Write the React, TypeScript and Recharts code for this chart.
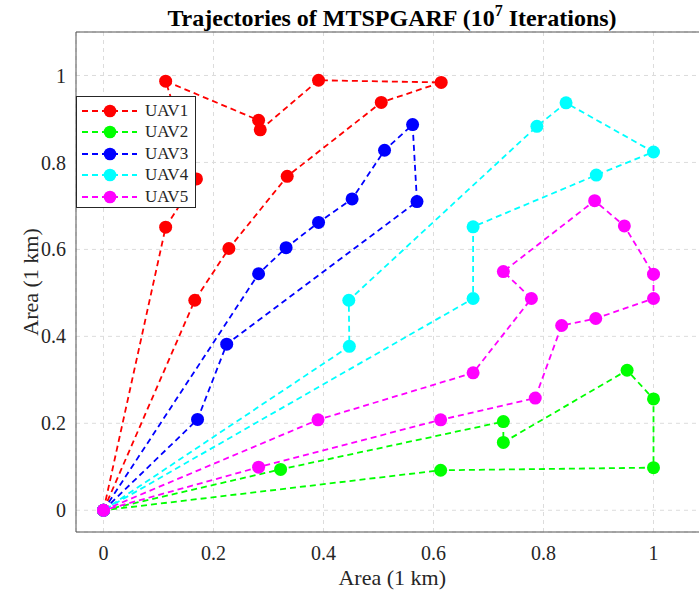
import React from 'react'
import { ScatterChart, Scatter, XAxis, YAxis, CartesianGrid, ReferenceLine } from 'recharts'

const FONT = '"Liberation Serif", "Times New Roman", serif'
const TEXT = '#262626'

// UAV routes, in visiting order (km)
const uav1X = [0, 0.113, 0.169, 0.113, 0.282, 0.285, 0.391, 0.614, 0.505, 0.334, 0.228, 0.166, 0]
const uav1Y = [0, 0.651, 0.762, 0.987, 0.897, 0.875, 0.989, 0.984, 0.938, 0.768, 0.602, 0.483, 0]
const uav2X = [0, 0.322, 0.727, 0.727, 0.952, 1, 1, 0.613, 0]
const uav2Y = [0, 0.094, 0.204, 0.156, 0.322, 0.256, 0.098, 0.092, 0]
const uav3X = [0, 0.171, 0.224, 0.57, 0.562, 0.511, 0.452, 0.391, 0.332, 0.282, 0]
const uav3Y = [0, 0.209, 0.382, 0.71, 0.887, 0.828, 0.716, 0.662, 0.604, 0.544, 0]
const uav4X = [0, 0.447, 0.446, 0.788, 0.841, 1, 0.896, 0.672, 0.672, 0]
const uav4Y = [0, 0.377, 0.483, 0.883, 0.937, 0.824, 0.771, 0.652, 0.487, 0]
const uav5X = [0, 0.39, 0.672, 0.778, 0.727, 0.893, 0.947, 1, 1, 0.895, 0.833, 0.785, 0.613, 0.282, 0]
const uav5Y = [0, 0.208, 0.316, 0.487, 0.549, 0.712, 0.654, 0.543, 0.487, 0.441, 0.425, 0.258, 0.208, 0.099, 0]

const names = ['UAV1', 'UAV2', 'UAV3', 'UAV4', 'UAV5']
const colors = ['#ff0000', '#00ff00', '#0000ff', '#00ffff', '#ff00ff']
const ticks = [0, 0.2, 0.4, 0.6, 0.8, 1]

const series = [
  [uav1X, uav1Y], [uav2X, uav2Y], [uav3X, uav3Y], [uav4X, uav4Y], [uav5X, uav5Y],
].map(([xs, ys]) => xs.map((x, i) => ({ x, y: ys[i] })))

const TICK_STYLE = { fontSize: 20, fill: TEXT, fontFamily: FONT }

function Dot(props: any) {
  return <circle cx={props.cx} cy={props.cy} r={6.5} fill={props.fill} />
}

function LegendBox() {
  return (
    <div style={{
      position: 'absolute', left: 76, top: 96, width: 120, height: 112, background: '#fff',
      border: '1px solid #262626', boxSizing: 'border-box', paddingTop: 3,
    }}>
      {names.map((n, i) => (
        <div key={n} style={{ display: 'flex', alignItems: 'center', height: 21.5 }}>
          <svg width={64} height={20} style={{ display: 'block' }}>
            <line x1={5} x2={60} y1={10} y2={10} stroke={colors[i]} strokeWidth={1.8} strokeDasharray="6 4" />
            <circle cx={33} cy={10} r={6.3} fill={colors[i]} />
          </svg>
          <span style={{ fontFamily: FONT, fontSize: 17, color: TEXT, marginLeft: 4 }}>{n}</span>
        </div>
      ))}
    </div>
  )
}

export default function App() {
  return (
    <div style={{ position: 'absolute', left: 0, top: 0, width: 699, height: 596, overflow: 'hidden', background: '#fff' }}>
      <div style={{
        position: 'absolute', left: 76, top: 6, width: 632, textAlign: 'center', fontFamily: FONT,
        fontWeight: 'bold', fontSize: 24, lineHeight: '24px', color: '#000', whiteSpace: 'nowrap',
      }}>
        Trajectories of MTSPGARF (10<sup style={{ fontSize: 16, verticalAlign: 'baseline', position: 'relative', top: -10 }}>7</sup> Iterations)
      </div>
      <ScatterChart width={720} height={596} margin={{ top: 32, right: 11.5, left: 0, bottom: 0 }}>
        <CartesianGrid stroke="#dcdcdc" strokeDasharray="4 4" />
        <XAxis type="number" dataKey="x" domain={[-0.05, 1.1]} ticks={ticks} allowDataOverflow
          height={64} tick={TICK_STYLE} tickLine={false} tickSize={6} tickMargin={8}
          axisLine={{ stroke: '#555' }}
          label={{ value: 'Area (1 km)', position: 'insideBottom', offset: 11, style: { fontSize: 22, fontFamily: FONT, fill: TEXT } }}
        />
        <YAxis type="number" dataKey="y" domain={[-0.05, 1.1]} ticks={ticks} allowDataOverflow
          width={76} tick={TICK_STYLE} tickLine={false} tickSize={6} tickMargin={4}
          axisLine={{ stroke: '#555' }}
          label={{
            content: (p: any) => {
              const vb = p.viewBox || { x: 0, y: 32, height: 500 }
              const cx = vb.x + 38
              const cy = vb.y + vb.height / 2
              return (
                <text x={cx} y={cy} transform={`rotate(-90 ${cx} ${cy})`} textAnchor="middle"
                  style={{ fontSize: 22, fontFamily: FONT, fill: TEXT }}>Area (1 km)</text>
              )
            },
          }}
        />
        <ReferenceLine y={1.1} stroke="#555" ifOverflow="visible" />
        {series.map((data, i) => (
          <Scatter key={names[i]} name={names[i]} data={data} fill={colors[i]}
            line={{ stroke: colors[i], strokeWidth: 1.8, strokeDasharray: '6 4' }}
            lineJointType="linear" shape={<Dot />} isAnimationActive={false}
          />
        ))}
      </ScatterChart>
      <LegendBox />
    </div>
  )
}
